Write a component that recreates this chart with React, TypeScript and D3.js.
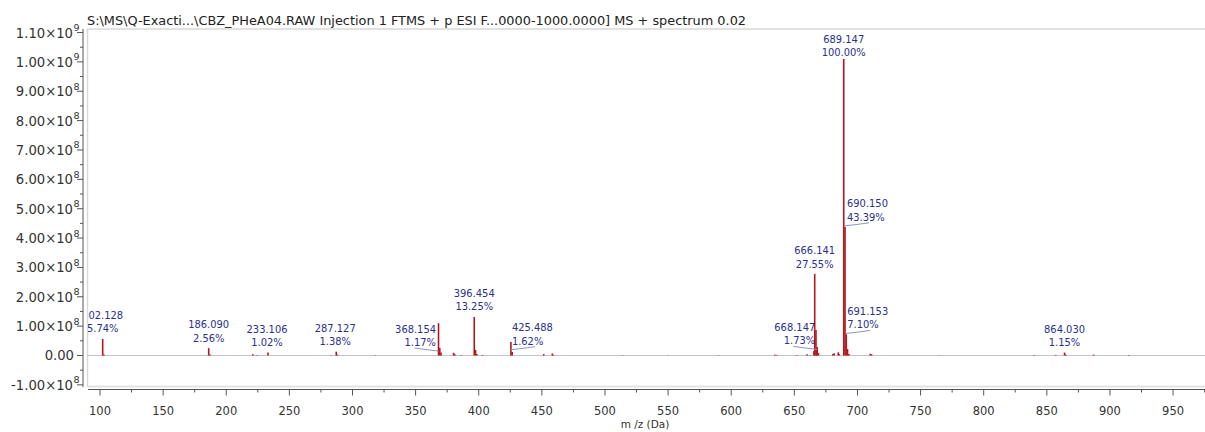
import React from "react";
import * as d3 from "d3";

// ---------- data ----------
const titleText =
  "S:\\MS\\Q-Exacti...\\CBZ_PHeA04.RAW Injection 1 FTMS + p ESI F...0000-1000.0000] MS + spectrum 0.02";
const xAxisTitle = "m /z (Da)";

const basePeakIntensity = 1.01e9;

const peakMz = [
  102.128, 103.13, 186.09, 187.09, 221.05, 224.5, 233.106, 283.0, 287.127, 288.13, 318.0,
  368.154, 369.157, 370.16, 380.1, 381.1, 386.0, 396.454, 397.457, 398.46, 403.0,
  425.488, 426.49, 451.5, 458.3, 459.3, 514.0, 550.0, 590.0, 634.5, 636.0, 652.0,
  660.1, 662.5, 665.5, 666.141, 667.144, 667.6, 668.147, 669.15, 680.5, 681.5, 684.8, 685.5,
  689.147, 690.15, 691.153, 692.15, 693.2, 710.2, 711.2, 765.0, 840.0, 857.0,
  864.03, 865.03, 887.0, 915.0,
];
const peakIntensity = [
  5.6e7, 3e6, 2.5e7, 3e6, 4e6, 2e6, 1.0e7, 1e6, 1.3e7, 3e6, 1e6,
  1.1e8, 2.6e7, 1.0e7, 9e6, 4e6, 2e6, 1.31e8, 1.9e7, 5e6, 2e6,
  4.6e7, 1.2e7, 5e6, 7e6, 2e6, 1e6, 1e6, 1e6, 3e6, 2e6, 2e6,
  4e6, 2e6, 1.5e7, 2.78e8, 8.7e7, 2.6e7, 2.9e7, 8e6, 5e6, 8e6, 1.1e7, 4e6,
  1.01e9, 4.38e8, 7.2e7, 2.2e7, 5e6, 6e6, 4e6, 1e6, 2e6, 2e6,
  1.0e7, 3e6, 3e6, 2e6,
];

const labelMz = [
  102.128, 186.09, 233.106, 287.127, 368.154, 396.454, 425.488,
  666.141, 668.147, 689.147, 690.15, 691.153, 864.03,
];
const labelPercent = [
  5.74, 2.56, 1.02, 1.38, 1.17, 13.25, 1.62, 27.55, 1.73, 100.0, 43.39, 7.1, 1.15,
];

const xTickValues = [100, 150, 200, 250, 300, 350, 400, 450, 500, 550, 600, 650, 700, 750, 800, 850, 900, 950];
const yTickValues = [-1e8, 0, 1e8, 2e8, 3e8, 4e8, 5e8, 6e8, 7e8, 8e8, 9e8, 1e9, 1.1e9];

// ---------- layout (label placement, not data) ----------
type Place = { anchor: "start" | "middle" | "end"; dx: number; leader: boolean };
const labelPlacement: Record<string, Place> = {
  "233.106": { anchor: "middle", dx: -1, leader: false },
  "287.127": { anchor: "middle", dx: -1, leader: false },
  "368.154": { anchor: "end", dx: -2.5, leader: true },
  "425.488": { anchor: "start", dx: 1, leader: true },
  "668.147": { anchor: "end", dx: -2, leader: true },
  "690.150": { anchor: "start", dx: 2, leader: true },
  "691.153": { anchor: "start", dx: 1, leader: true },
};

const W = 1205;
const H = 432;
const plotLeft = 87;
const plotRight = 1205;
const plotTop = 29;
const plotBottom = 387;
const axisX = 83;
const axisY = 389.5;

const labelFont = "'DejaVu Sans Condensed', 'DejaVu Sans', sans-serif";
const axisFont = "'DejaVu Sans', sans-serif";

function yLabelParts(v: number): [string, string] {
  if (v === 0) return ["0.00", ""];
  const a = Math.abs(v);
  const exp = a >= 1e9 ? 9 : 8;
  const m = v / Math.pow(10, exp);
  return [m.toFixed(2) + "\u00d710", String(exp)];
}

export default function App() {
  const x = d3.scaleLinear().domain([89.7, 975.3]).range([plotLeft, plotRight]);
  const y = d3.scaleLinear().domain([-1.073e8, 1.112e9]).range([plotBottom, plotTop]);

  const peaks = peakMz.map((m, i) => ({ mz: m, v: peakIntensity[i] }));
  const labels = labelMz.map((m, i) => ({ mz: m, pct: labelPercent[i] }));

  const minorX = d3.range(125, 976, 50);
  const minorY = d3.range(-0.5e8, 1.11e9, 1e8);

  return (
    <svg
      width={W}
      height={H}
      style={{ position: "absolute", left: 0, top: 0, background: "#fff" }}
      xmlns="http://www.w3.org/2000/svg"
    >
      <defs>
        <clipPath id="plotClip">
          <rect x={plotLeft + 1} y={plotTop} width={plotRight - plotLeft} height={plotBottom - plotTop} />
        </clipPath>
      </defs>

      {/* title */}
      <text
        x={87}
        y={25}
        fontFamily={axisFont}
        fontSize={12}
        fill="#222"
        textLength={659}
        lengthAdjust="spacingAndGlyphs"
      >
        {titleText}
      </text>

      {/* plot frame */}
      <line x1={plotLeft} x2={plotRight} y1={plotTop} y2={plotTop} stroke="#d9d9d9" strokeWidth={1.5} />
      <line x1={plotLeft + 0.5} x2={plotLeft + 0.5} y1={plotTop} y2={plotBottom} stroke="#d9d9d9" strokeWidth={1.5} />
      <line x1={plotLeft} x2={plotRight} y1={plotBottom - 0.5} y2={plotBottom - 0.5} stroke="#dcdcdc" strokeWidth={1.5} />

      {/* zero line */}
      <line x1={plotLeft} x2={plotRight} y1={y(0)} y2={y(0)} stroke="#c4c4c4" strokeWidth={1} />

      {/* y axis */}
      <line x1={axisX} x2={axisX} y1={plotTop} y2={plotBottom} stroke="#555" strokeWidth={1} />
      {yTickValues.map((v) => {
        const [main, sup] = yLabelParts(v);
        const yy = y(v);
        return (
          <g key={"yt" + v}>
            <line x1={axisX - 6} x2={axisX} y1={yy} y2={yy} stroke="#555" strokeWidth={1} />
            <text
              x={sup ? 73 : 74}
              y={yy + 5}
              textAnchor="end"
              fontFamily={axisFont}
              fontSize={13.2}
              fill="#333"
            >
              {main}
            </text>
            {sup && (
              <text x={73.5} y={yy - 1.5} fontFamily={axisFont} fontSize={9.5} fill="#333">
                {sup}
              </text>
            )}
          </g>
        );
      })}
      {minorY.map((v) => (
        <line key={"ym" + v} x1={axisX - 3} x2={axisX} y1={y(v)} y2={y(v)} stroke="#555" strokeWidth={1} />
      ))}

      {/* x axis */}
      <line x1={plotLeft + 1} x2={plotRight} y1={axisY} y2={axisY} stroke="#555" strokeWidth={1} />
      {xTickValues.map((v) => (
        <g key={"xt" + v}>
          <line x1={x(v)} x2={x(v)} y1={axisY} y2={axisY + 6} stroke="#555" strokeWidth={1} />
          <text x={x(v)} y={415} textAnchor="middle" fontFamily={axisFont} fontSize={11.5} fill="#333">
            {v}
          </text>
        </g>
      ))}
      {minorX.map((v) => (
        <line key={"xm" + v} x1={x(v)} x2={x(v)} y1={axisY} y2={axisY + 3} stroke="#555" strokeWidth={1} />
      ))}
      <text x={645} y={428} textAnchor="middle" fontFamily={axisFont} fontSize={10.5} fill="#333">
        {xAxisTitle}
      </text>

      {/* peaks */}
      <g clipPath="url(#plotClip)">
        {peaks.map((p, i) => (
          <line
            key={"pk" + i}
            x1={x(p.mz)}
            x2={x(p.mz)}
            y1={y(0)}
            y2={y(p.v)}
            stroke="#b3161c"
            strokeWidth={1.6}
          />
        ))}

        {/* labels */}
        {labels.map((l) => {
          const key = l.mz.toFixed(3);
          const place = labelPlacement[key] || { anchor: "middle", dx: 0, leader: false };
          const bx = x(l.mz);
          const ya = y((l.pct / 100) * basePeakIntensity);
          const b2 = Math.max(ya - 6, 56);
          const b1 = b2 - 13.5;
          const tx = bx + place.dx;
          const dir = place.anchor === "end" ? -1 : 1;
          return (
            <g key={"lb" + key}>
              <text
                x={tx}
                y={b1}
                textAnchor={place.anchor}
                fontFamily={labelFont}
                fontSize={11}
                fill="#2b2f8f"
              >
                {key}
              </text>
              <text
                x={tx}
                y={b2}
                textAnchor={place.anchor}
                fontFamily={labelFont}
                fontSize={11}
                fill="#2b2f8f"
              >
                {l.pct.toFixed(2) + "%"}
              </text>
              {place.leader && (
                <path
                  d={`M${bx},${b2 + 5} Q${bx + dir * 10},${b2 + 4} ${bx + dir * 24},${b2 + 2}`}
                  fill="none"
                  stroke="#8a96c8"
                  strokeWidth={1}
                />
              )}
            </g>
          );
        })}
      </g>
    </svg>
  );
}
